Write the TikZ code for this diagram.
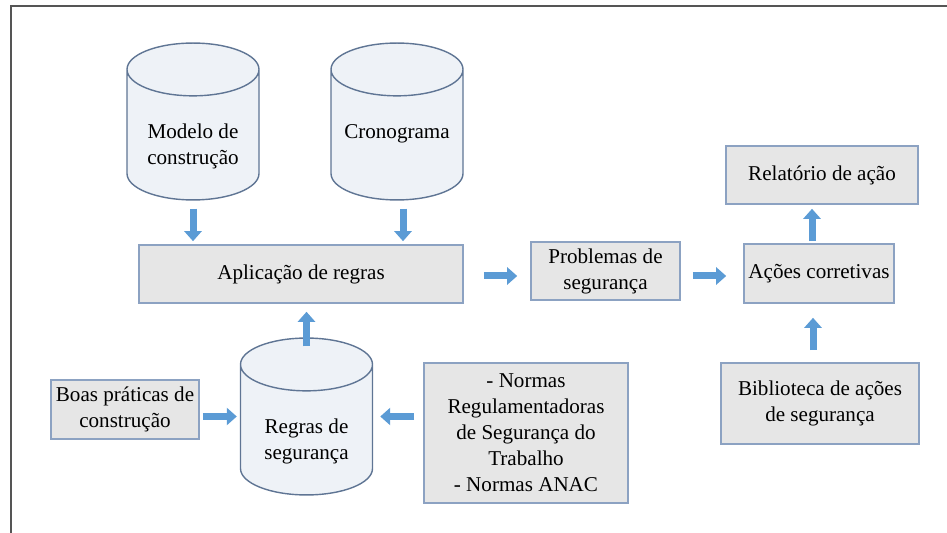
\documentclass[tikz,border=0pt]{standalone}
\usepackage{fontspec}
\setmainfont{Liberation Serif}
\usetikzlibrary{arrows.meta, positioning, shapes.geometric, calc}
\definecolor{cboxfill}{HTML}{E6E6E6}
\definecolor{cboxline}{HTML}{8CA2C2}
\definecolor{ccylfill}{HTML}{EEF2F7}
\definecolor{ccylline}{HTML}{5F7594}
\definecolor{carrow}{HTML}{5B9BD5}
\definecolor{cframe}{HTML}{555555}
\newcommand{\dbtext}[1]{\parbox[c][1.54cm][t]{2.4cm}{\centering\vspace*{0.55cm}#1}}
\tikzset{
  every picture/.style={font=\fontsize{12}{14.8}\selectfont},
  box/.style={draw=cboxline, fill=cboxfill, line width=0.9pt, align=center, inner sep=2pt},
  db/.style={cylinder, shape border rotate=90, aspect=0.44, draw=ccylline, fill=ccylfill, line width=0.8pt,
    minimum width=2.64cm, minimum height=2.74cm, align=center, inner sep=0pt, anchor=shape center},
  arrow/.style={-{Triangle[length=0.2cm, width=0.34cm]}, draw=carrow, line width=0.14cm},
}
\begin{document}
\begin{tikzpicture}
  \useasboundingbox (0,0) rectangle (18.94,-10.66);
  \draw[cframe, line width=1.2pt] (0.22,-10.66) -- (0.22,-0.12) -- (18.94,-0.12);
  \node[db] (model) at (3.86,-2.43) {\dbtext{Modelo de\\ construção}};
  \node[db] (crono) at (7.94,-2.43) {\dbtext{Cronograma}};
  \node[box, minimum width=6.48cm, minimum height=1.16cm] (apl) at (6.02,-5.48) {Aplicação de regras};
  \node[db] (regras) at (6.13,-8.33) {\dbtext{Regras de\\ segurança}};
  \node[box, minimum width=2.96cm, minimum height=1.18cm] (boas) at (2.5,-8.19) {Boas práticas de\\ construção};
  \node[box, minimum width=4.08cm, minimum height=2.8cm] (normas) at (10.52,-8.66) {- Normas\\ Regulamentadoras\\ de Segurança do\\ Trabalho\\ - Normas ANAC};
  \node[box, minimum width=2.98cm, minimum height=1.16cm] (probl) at (12.11,-5.42) {Problemas de\\ segurança};
  \node[box, minimum width=3.0cm, minimum height=1.18cm] (acoes) at (16.38,-5.47) {Ações corretivas};
  \node[box, minimum width=3.84cm, minimum height=1.16cm] (rel) at (16.44,-3.5) {Relatório de ação};
  \node[box, minimum width=3.96cm, minimum height=1.62cm] (bib) at (16.4,-8.07) {Biblioteca de ações\\ de segurança};
  \draw[arrow, shorten <=0.16cm, shorten >=0.06cm] (model.south) -- (model.south |- apl.north);
  \draw[arrow, shorten <=0.16cm, shorten >=0.06cm] ([xshift=0.12cm]crono.south) -- ([xshift=0.12cm]crono.south |- apl.north);
  \draw[arrow, shorten <=-0.18cm, shorten >=0.16cm] (regras.north) -- (regras.north |- apl.south);
  \draw[arrow, shorten <=0.06cm, shorten >=0.06cm] (boas.east |- regras.shape center) -- (regras.west |- regras.shape center);
  \draw[arrow, shorten <=0.18cm, shorten >=0.14cm] (normas.west |- regras.shape center) -- (regras.east |- regras.shape center);
  \draw[arrow, shorten <=0.4cm, shorten >=0.26cm] ([yshift=-0.04cm]apl.east) -- ([yshift=-0.04cm]apl.east -| probl.west);
  \draw[arrow, shorten <=0.24cm, shorten >=0.34cm] ([yshift=-0.1cm]probl.east) -- ([yshift=-0.1cm]probl.east -| acoes.west);
  \draw[arrow, shorten <=0.04cm, shorten >=0.08cm] ([xshift=-0.14cm]acoes.north) -- ([xshift=-0.14cm]acoes.north |- rel.south);
  \draw[arrow, shorten <=0.24cm, shorten >=0.28cm] ([xshift=-0.14cm]bib.north) -- ([xshift=-0.14cm]bib.north |- acoes.south);
\end{tikzpicture}
\end{document}
